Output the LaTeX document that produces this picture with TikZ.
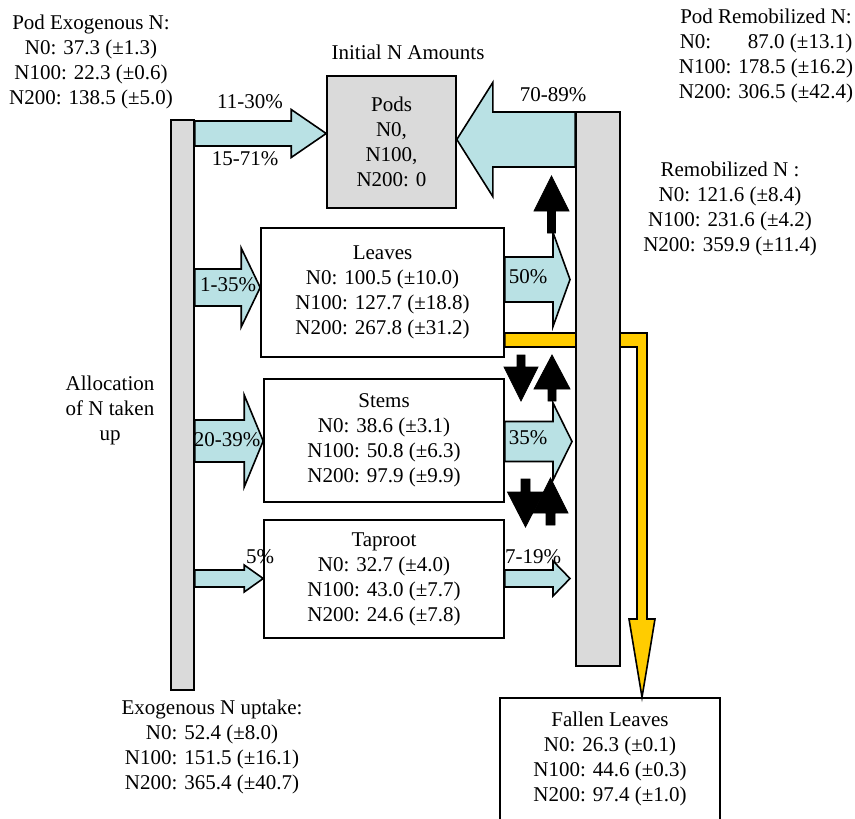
\documentclass[tikz,border=0pt]{standalone}
\usepackage{fontspec}
\setmainfont{Liberation Serif}
\usepackage{tikz}
\usetikzlibrary{calc,backgrounds}
\definecolor{flowcyan}{RGB}{185,225,228}
\definecolor{bargray}{RGB}{218,218,218}
\definecolor{fallyellow}{RGB}{255,204,0}
\tikzset{
  bar/.style={draw, fill=bargray, line width=0.8pt, inner sep=0pt},
  box/.style={draw, line width=0.8pt, align=center, inner sep=0pt},
  lbl/.style={align=center, inner sep=0pt},
  cyanarr/.style={draw, fill=flowcyan, line width=0.8pt, line join=miter},
  blackarr/.style={draw, fill=black, line width=0.4pt, line join=miter},
  yellowarr/.style={draw, fill=fallyellow, line width=0.8pt, line join=miter},
}
% block arrow: [style]{start}{end}{shaft half}{head half}{head length}, sizes in px
\newcommand{\blockarrow}[6][cyanarr]{%
  \coordinate (ba-s) at (#2);
  \coordinate (ba-e) at (#3);
  \coordinate (ba-h) at ($(ba-e)!#6*0.5pt!(ba-s)$);
  \path[#1] ($(ba-s)!#4*0.5pt!90:(ba-e)$) -- ($(ba-h)!#4*0.5pt!-90:(ba-s)$)
    -- ($(ba-h)!#5*0.5pt!-90:(ba-s)$) -- (ba-e)
    -- ($(ba-h)!#5*0.5pt!90:(ba-s)$) -- ($(ba-h)!#4*0.5pt!90:(ba-s)$)
    -- ($(ba-s)!#4*0.5pt!-90:(ba-e)$) -- cycle;}

\begin{document}
\begin{tikzpicture}[x=0.5pt,y=-0.5pt,font=\fontsize{10.5}{12.5}\selectfont]
\useasboundingbox (0,0) rectangle (855,818);

    %% ---------- bars ----------
    \node[bar, minimum width=11.5pt, minimum height=285pt] (upbar) at (182.5,405) {};
    \node[bar, minimum width=22pt, minimum height=277pt] (remobbar) at (598,389) {};

    %% ---------- pools ----------
    \node[box, fill=bargray, minimum width=64.5pt, minimum height=66pt] (pods) at (391.5,142)
      {Pods\\N0,\\N100,\\N200: 0};
    \node[box, minimum width=121.5pt, minimum height=64.5pt] (leaves) at (382.5,292.5)
      {Leaves\\N0: 100.5 (±10.0)\\N100: 127.7 (±18.8)\\N200: 267.8 (±31.2)};
    \node[box, minimum width=120pt, minimum height=61.5pt] (stems) at (384,440.5)
      {Stems\\N0: 38.6 (±3.1)\\N100: 50.8 (±6.3)\\N200: 97.9 (±9.9)};
    \node[box, minimum width=120pt, minimum height=59pt] (taproot) at (384,579)
      {Taproot\\N0: 32.7 (±4.0)\\N100: 43.0 (±7.7)\\N200: 24.6 (±7.8)};
    \node[box, minimum width=110pt, minimum height=61pt] (fallen) at (610,759)
      {Fallen Leaves\\N0: 26.3 (±0.1)\\N100: 44.6 (±0.3)\\N200: 97.4 (±1.0)};

    %% ---------- flows (background layer: behind the bars) ----------
    \begin{scope}[on background layer]
      \path[yellowarr] (leaves.east |- 0,333) -- (647,333) -- (647,619) -- (655,619)
        -- (fallen.north -| 642,0) -- (629,619) -- (637,619) -- (637,347)
        -- (leaves.east |- 0,347) -- cycle;
      \blockarrow{upbar.east |- 0,133.5}{pods.west |- 0,133.5}{12.5}{24}{35}
      \blockarrow{remobbar.west |- 0,139.5}{pods.east |- 0,139.5}{27.5}{57}{36}
      \blockarrow{upbar.east |- 0,287.5}{leaves.west |- 0,287.5}{18.5}{39.5}{19}
      \blockarrow{upbar.east |- 0,441}{stems.west |- 0,441}{21}{46}{19}
      \blockarrow{upbar.east |- 0,578.5}{taproot.west |- 0,578.5}{8.5}{13.5}{19}
      \blockarrow{leaves.east |- 0,279.5}{570,279.5}{22.5}{47}{17}
      \blockarrow{stems.east |- 0,441.5}{572,441.5}{20}{38.5}{19}
      \blockarrow{taproot.east |- 0,578.5}{570,578.5}{8.5}{17.5}{17}
      \blockarrow[blackarr]{551.5,233}{551.5,176}{4}{17.5}{35}
      \blockarrow[blackarr]{521,355}{521,401}{4}{17}{34}
      \blockarrow[blackarr]{552,401}{552,355}{4}{18}{34}
      \blockarrow[blackarr]{525.5,479}{525.5,527}{4.5}{18}{35}
      \blockarrow[blackarr]{550.5,525}{550.5,478}{4.5}{17.5}{35}
    \end{scope}

    %% ---------- percentages ----------
    \node[lbl] (pc1130) at (250,102) {11-30\%};
    \node[lbl] (pc1571) at (245,159) {15-71\%};
    \node[lbl] (pc7089) at (553,95) {70-89\%};
    \node[lbl] (pc135)  at (228,285) {1-35\%};
    \node[lbl] (pc2039) at (227,440) {20-39\%};
    \node[lbl] (pc5)    at (260,557) {5\%};
    \node[lbl] (pc50)   at (528,277) {50\%};
    \node[lbl] (pc35)   at (528,438) {35\%};
    \node[lbl] (pc719)  at (533,557) {7-19\%};

    %% ---------- labels ----------
    \node[lbl] (podexo) at (91,61.5)
      {Pod Exogenous N:\\N0: 37.3 (±1.3)\\N100: 22.3 (±0.6)\\N200: 138.5 (±5.0)};
    \node[lbl] (initial) at (408,52) {Initial N Amounts};
    \node[lbl] (podremob) at (766,55.5)
      {Pod Remobilized N:\\N0:\hphantom{000} 87.0 (±13.1)\\N100: 178.5 (±16.2)\\N200: 306.5 (±42.4)};
    \node[lbl] (remob) at (730,209)
      {Remobilized N :\\N0: 121.6 (±8.4)\\N100: 231.6 (±4.2)\\N200: 359.9 (±11.4)};
    \node[lbl] (alloc) at (110,410) {Allocation\\of N taken\\up};
    \node[lbl] (uptake) at (212,747)
      {Exogenous N uptake:\\N0: 52.4 (±8.0)\\N100: 151.5 (±16.1)\\N200: 365.4 (±40.7)};

\end{tikzpicture}
\end{document}
